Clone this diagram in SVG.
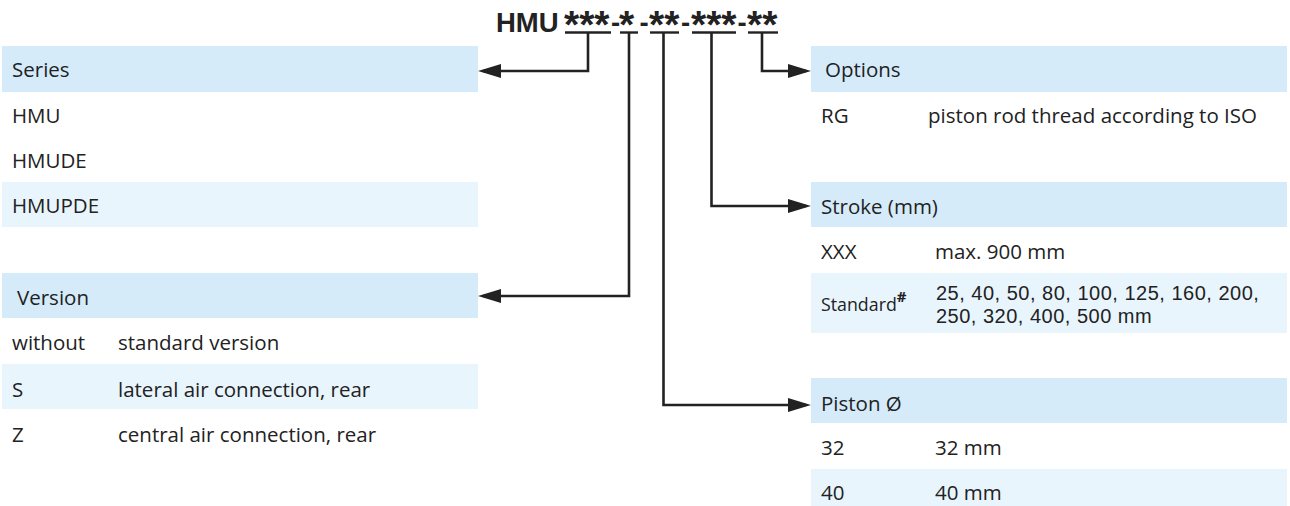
<svg xmlns="http://www.w3.org/2000/svg" width="1290" height="506" viewBox="0 0 1290 506">
<style>
  .hd { fill: #d5ebfa; }
  .lt { fill: #e9f5fd; }
  .t { font-family: "Open Sans", "Noto Sans", "Liberation Sans", sans-serif; font-size: 20.5px; fill: #222; }
  .t2 { font-family: "Liberation Sans", Arial, sans-serif; font-size: 20px; letter-spacing: 0.5px; fill: #222; }
  .sm { font-size: 17.8px; }
  .sup { font-size: 15px; font-weight: bold; }
  .title { font-family: "Liberation Sans", Arial, sans-serif; font-weight: bold; font-size: 27.5px; fill: #222; }
  .ast { font-size: 39px; }
  .ul { stroke: #222; stroke-width: 2.4; }
  .conn { fill: none; stroke: #222; stroke-width: 2.6; }
</style>
<defs>
  <marker id="arr" markerUnits="userSpaceOnUse" markerWidth="24" markerHeight="16" viewBox="0 0 24 16" refX="18" refY="8" orient="auto">
    <path d="M0,1 L23,8 L0,15 z" fill="#222"/>
  </marker>
</defs>

<g id="title">
  <text class="title" y="32.3"><tspan x="496">HMU</tspan><tspan class="ast" x="564" y="38">***</tspan><tspan x="611" y="32.3">-</tspan><tspan class="ast" x="619" y="38">*</tspan><tspan x="639.5" y="32.3">-</tspan><tspan class="ast" x="649" y="38">**</tspan><tspan x="681" y="32.3">-</tspan><tspan class="ast" x="691" y="38">***</tspan><tspan x="737.5" y="32.3">-</tspan><tspan class="ast" x="747" y="38">**</tspan></text>
  <line class="ul" x1="565" y1="32.5" x2="611" y2="32.5"/>
  <line class="ul" x1="620" y1="32.5" x2="638" y2="32.5"/>
  <line class="ul" x1="650" y1="32.5" x2="679" y2="32.5"/>
  <line class="ul" x1="692" y1="32.5" x2="736" y2="32.5"/>
  <line class="ul" x1="748" y1="32.5" x2="778" y2="32.5"/>
</g>

<g id="series">
  <rect class="hd" x="2" y="46" width="476" height="46"/>
  <rect class="lt" x="2" y="182" width="476" height="45"/>
  <text class="t" x="12" y="77">Series</text>
  <text class="t" x="12" y="122.5">HMU</text>
  <text class="t" x="12" y="168">HMUDE</text>
  <text class="t" x="12" y="213">HMUPDE</text>
</g>

<g id="version">
  <rect class="hd" x="2" y="273" width="476" height="45"/>
  <rect class="lt" x="2" y="364" width="476" height="45"/>
  <text class="t" x="17" y="305">Version</text>
  <text class="t" x="12" y="350">without</text>
  <text class="t" x="118" y="350">standard version</text>
  <text class="t" x="12" y="396.5">S</text>
  <text class="t" x="118" y="396.5">lateral air connection, rear</text>
  <text class="t" x="12" y="442">Z</text>
  <text class="t" x="118" y="442">central air connection, rear</text>
</g>

<g id="options">
  <rect class="hd" x="811" y="46" width="476" height="46"/>
  <text class="t" x="825" y="77">Options</text>
  <text class="t" x="821" y="122.5">RG</text>
  <text class="t" x="928" y="122.5">piston rod thread according to ISO</text>
</g>

<g id="stroke">
  <rect class="hd" x="811" y="182" width="476" height="45"/>
  <rect class="lt" x="811" y="273" width="476" height="60"/>
  <text class="t" x="821" y="214">Stroke (mm)</text>
  <text class="t" x="821" y="259">XXX</text>
  <text class="t" x="935" y="259">max. 900 mm</text>
  <text class="t sm" x="821" y="310.5">Standard<tspan class="sup" dy="-9">#</tspan></text>
  <text class="t2" x="936" y="300">25, 40, 50, 80, 100, 125, 160, 200,</text>
  <text class="t2" x="936" y="323.4">250, 320, 400, 500 mm</text>
</g>

<g id="piston">
  <rect class="hd" x="811" y="378" width="476" height="45"/>
  <rect class="lt" x="811" y="469" width="476" height="37"/>
  <text class="t" x="821" y="410.5">Piston Ø</text>
  <text class="t" x="821" y="455">32</text>
  <text class="t" x="935" y="455">32 mm</text>
  <text class="t" x="821" y="500">40</text>
  <text class="t" x="935" y="500">40 mm</text>
</g>

<g id="connectors">
  <path class="conn" d="M588,33 V71 H483" marker-end="url(#arr)"/>
  <path class="conn" d="M629,33 V296 H483" marker-end="url(#arr)"/>
  <path class="conn" d="M663.5,33 V405 H806" marker-end="url(#arr)"/>
  <path class="conn" d="M711.5,33 V206 H806" marker-end="url(#arr)"/>
  <path class="conn" d="M762,33 V71 H806" marker-end="url(#arr)"/>
</g>
</svg>
